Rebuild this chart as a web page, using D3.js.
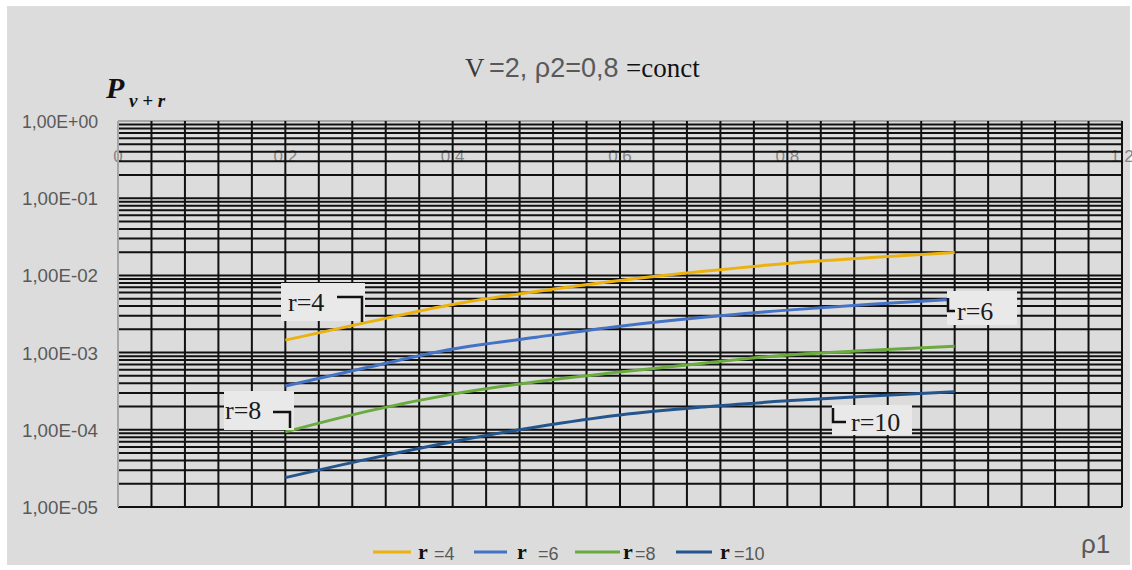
<!DOCTYPE html>
<html>
<head>
<meta charset="utf-8">
<script src="https://cdn.jsdelivr.net/npm/d3@7"></script>
<style>
  html, body { margin: 0; padding: 0; background: #ffffff; }
  svg { display: block; }
</style>
</head>
<body>
<svg id="chart" width="1132" height="570"></svg>
<script>
// values
var rho1 = [0.2, 0.3, 0.4, 0.5, 0.6, 0.7, 0.8, 0.9, 1.0];
var pR4  = [1.45e-3, 2.5e-3, 4.2e-3, 6.2e-3, 8.6e-3, 1.13e-2, 1.43e-2, 1.7e-2, 1.98e-2];
var pR6  = [3.7e-4, 6.5e-4, 1.11e-3, 1.58e-3, 2.2e-3, 2.87e-3, 3.55e-3, 4.22e-3, 4.9e-3];
var pR8  = [9.4e-5, 1.76e-4, 2.9e-4, 4.2e-4, 5.6e-4, 7.3e-4, 9.3e-4, 1.07e-3, 1.21e-3];
var pR10 = [2.4e-5, 4.2e-5, 7.0e-5, 1.09e-4, 1.56e-4, 1.98e-4, 2.37e-4, 2.75e-4, 3.1e-4];

var seriesNames = ["4", "6", "8", "10"];
var seriesColors = ["#ebb20e", "#4472c4", "#6aaa3f", "#23558c"];
var yTickLabels = ["1,00E+00", "1,00E-01", "1,00E-02", "1,00E-03", "1,00E-04", "1,00E-05"];
var xTickLabels = ["0", "0,2", "0,4", "0,6", "0,8", "1", "1,2"];

(function(){
    var svg = d3.select("#chart");
    var sans = "Liberation Sans, Arial, sans-serif";
    var serif = "Liberation Serif, Times New Roman, serif";

    // grey background panel
    svg.append("rect")
        .attr("x", 7).attr("y", 6)
        .attr("width", 1123).attr("height", 559)
        .attr("fill", "#dcdcdc");

    var x = d3.scaleLinear().domain([0, 1.2]).range([118, 1122]);
    var y = d3.scaleLog().domain([1e-5, 1]).range([507, 121]);

    // x labels sit under the grid, near the top (last one runs off the edge, as in the original)
    svg.append("g").selectAll("text")
        .data(xTickLabels)
        .enter().append("text")
        .attr("x", function(d, i) { return x(i * 0.2); })
        .attr("y", 162)
        .attr("text-anchor", "middle")
        .attr("font-family", sans)
        .attr("font-size", 17)
        .attr("fill", "#858585")
        .text(function(d) { return d; });

    // minor log gridlines
    var hLines = [];
    for (var e = -5; e < 0; e++) {
        for (var m = 1; m < 10; m++) {
            hLines.push(m * Math.pow(10, e));
        }
    }
    hLines.push(1);

    var grid = svg.append("g");
    grid.selectAll("line.h")
        .data(hLines)
        .enter().append("line")
        .attr("class", "h")
        .attr("x1", x(0)).attr("x2", x(1.2))
        .attr("y1", function(d) { return y(d); })
        .attr("y2", function(d) { return y(d); })
        .attr("stroke", function(d) { return d === 1 ? "#a6a6a6" : "#111"; })
        .attr("stroke-width", 2);

    var vLines = d3.range(0, 31).map(function(i) { return i * 0.04; });
    grid.selectAll("line.v")
        .data(vLines)
        .enter().append("line")
        .attr("class", "v")
        .attr("x1", function(d) { return x(d); })
        .attr("x2", function(d) { return x(d); })
        .attr("y1", y(1)).attr("y2", y(1e-5))
        .attr("stroke", function(d, i) { return i === 0 ? "#a6a6a6" : "#111"; })
        .attr("stroke-width", 2);

    // y labels
    svg.append("g").selectAll("text")
        .data(yTickLabels)
        .enter().append("text")
        .attr("x", 98)
        .attr("y", function(d, i) { return y(Math.pow(10, -i)) + 7; })
        .attr("text-anchor", "end")
        .attr("font-family", sans)
        .attr("font-size", 18)
        .attr("textLength", 76)
        .attr("lengthAdjust", "spacingAndGlyphs")
        .attr("fill", "#595959")
        .text(function(d) { return d; });

    // curves
    var allSeries = [pR4, pR6, pR8, pR10];
    var line = d3.line()
        .x(function(d, i) { return x(rho1[i]); })
        .y(function(d) { return y(d); })
        .curve(d3.curveMonotoneX);

    svg.append("g").selectAll("path")
        .data(allSeries)
        .enter().append("path")
        .attr("d", line)
        .attr("fill", "none")
        .attr("stroke", function(d, i) { return seriesColors[i]; })
        .attr("stroke-width", 3);

    // data labels with leader lines
    var labels = [
        {t: "r=4",  bx: 281, by: 283, bw: 84, bh: 38, tx: 288, ty: 311, lead: [[337, 297], [362, 297], [362, 322]]},
        {t: "r=8",  bx: 224, by: 391, bw: 70, bh: 39, tx: 225, ty: 419, lead: [[273, 412], [290, 412], [290, 428]]},
        {t: "r=6",  bx: 947, by: 291, bw: 70, bh: 34, tx: 957, ty: 320, lead: [[948, 298], [948, 311], [955, 311]]},
        {t: "r=10", bx: 832, by: 405, bw: 80, bh: 30, tx: 851, ty: 431, lead: [[833, 408], [833, 422], [846, 422]]}
    ];
    var lab = svg.append("g").selectAll("g")
        .data(labels)
        .enter().append("g");
    lab.append("rect")
        .attr("x", function(d) { return d.bx; })
        .attr("y", function(d) { return d.by; })
        .attr("width", function(d) { return d.bw; })
        .attr("height", function(d) { return d.bh; })
        .attr("fill", "#e9e9e9");
    lab.append("text")
        .attr("x", function(d) { return d.tx; })
        .attr("y", function(d) { return d.ty; })
        .attr("font-family", serif)
        .attr("font-size", 26)
        .attr("fill", "#1a1a1a")
        .text(function(d) { return d.t; });
    lab.append("path")
        .attr("d", function(d) { return d3.line()(d.lead); })
        .attr("fill", "none")
        .attr("stroke", "#111")
        .attr("stroke-width", 2.5);

    // title
    svg.append("text")
        .attr("x", 465).attr("y", 77)
        .attr("font-family", serif)
        .attr("font-size", 27)
        .attr("fill", "#3a3a3a")
        .text("V");
    svg.append("text")
        .attr("x", 489).attr("y", 77)
        .attr("font-family", sans)
        .attr("font-size", 27)
        .attr("fill", "#595959")
        .text("=2, ρ2=0,8");
    svg.append("text")
        .attr("x", 626).attr("y", 77)
        .attr("font-family", serif)
        .attr("font-size", 27)
        .attr("fill", "#111")
        .text("=conct");

    // y axis caption P_{v+r}
    svg.append("text")
        .attr("x", 106).attr("y", 98)
        .attr("font-family", serif)
        .attr("font-weight", "bold")
        .attr("font-style", "italic")
        .attr("font-size", 30)
        .attr("fill", "#111")
        .text("P");
    svg.append("text")
        .attr("x", 129).attr("y", 107)
        .attr("font-family", serif)
        .attr("font-weight", "bold")
        .attr("font-style", "italic")
        .attr("font-size", 19)
        .attr("fill", "#111")
        .text("v + r");

    // x axis caption
    svg.append("text")
        .attr("x", 1081).attr("y", 553)
        .attr("font-family", sans)
        .attr("font-size", 26)
        .attr("fill", "#595959")
        .text("ρ1");

    // legend
    var legendX = [373, 474, 575, 676];
    var legendW = [38, 33, 45, 36];
    var legendR = [418, 517, 623, 720];
    var legendT = [434, 538, 635, 734];
    var leg = svg.append("g").selectAll("g")
        .data(seriesNames)
        .enter().append("g");
    leg.append("line")
        .attr("x1", function(d, i) { return legendX[i]; })
        .attr("x2", function(d, i) { return legendX[i] + legendW[i]; })
        .attr("y1", 552).attr("y2", 552)
        .attr("stroke", function(d, i) { return seriesColors[i]; })
        .attr("stroke-width", 3);
    leg.append("text")
        .attr("x", function(d, i) { return legendR[i]; })
        .attr("y", 559)
        .attr("font-family", serif)
        .attr("font-weight", "bold")
        .attr("font-size", 22)
        .attr("fill", "#111")
        .text("r");
    leg.append("text")
        .attr("x", function(d, i) { return legendT[i]; })
        .attr("y", 560)
        .attr("font-family", sans)
        .attr("font-size", 18)
        .attr("fill", "#595959")
        .text(function(d) { return "=" + d; });
})();
</script>
</body>
</html>
